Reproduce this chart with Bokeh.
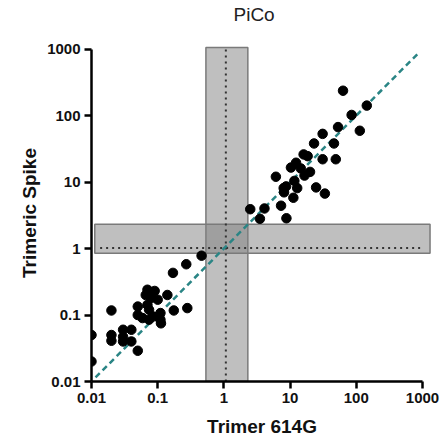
from bokeh.plotting import figure
from bokeh.models import Range1d, FixedTicker, CustomJSTickFormatter, Title
from bokeh.embed import file_html
from bokeh.resources import INLINE

# ---------------- data ----------------
trimer_614g = [2.5, 4.1, 3.5, 8.8, 6.1, 7.3, 8.1, 8.0, 8.7, 11.2, 11.6, 12.8, 16.5, 20, 10.3,
               12.3, 14.5, 16, 18.4, 24.7, 33.5, 31, 49, 23, 46, 31, 53, 63, 85, 113, 144,
               0.46, 0.27, 0.17, 0.07, 0.09, 0.14, 0.079, 0.1, 0.066, 0.05, 0.07, 0.175, 0.28,
               0.02, 0.05, 0.059, 0.074, 0.085, 0.11, 0.11, 0.112, 0.074, 0.01, 0.02, 0.02,
               0.03, 0.03, 0.03, 0.04, 0.04, 0.05, 0.01]
trimeric_spike = [3.9, 4.0, 2.8, 2.85, 12, 4.4, 7.0, 8.1, 8.6, 5.8, 10.4, 8.1, 12.5, 14.2, 16.5,
                  19.5, 16, 26, 24.5, 8.3, 6.7, 22, 22, 38, 38, 53, 67, 236, 102, 59, 141,
                  0.78, 0.58, 0.43, 0.24, 0.23, 0.2, 0.18, 0.17, 0.2, 0.134, 0.142, 0.117, 0.127,
                  0.117, 0.1, 0.09, 0.085, 0.095, 0.107, 0.085, 0.075, 0.12, 0.05, 0.05, 0.041,
                  0.06, 0.047, 0.04, 0.06, 0.04, 0.029, 0.02]

tick_values = [0.01, 0.1, 1, 10, 100, 1000]
tick_labels = ["0.01", "0.1", "1", "10", "100", "1000"]
title_text = "PiCo"

# shaded threshold bands (x: Trimer 614G, y: Trimeric Spike)
vband_x = [0.535, 2.3]
vband_y = [0.01, 1050]
hband_x = [0.0112, 1300]
hband_y = [0.85, 2.32]
# dotted cut-off lines
vcut_x = [1.07, 1.07]
vcut_y = [0.01, 1000]
hcut_x = [0.0135, 1000]
hcut_y = [1.02, 1.02]
# identity line
identity = [0.0115, 900]

# ---------------- figure ----------------
p = figure(width=440, height=442, x_axis_type="log", y_axis_type="log",
           x_range=Range1d(0.01, 1416), y_range=Range1d(0.01, 1170),
           output_backend="svg", toolbar_location=None, title_location=None,
           min_border_left=91, min_border_right=8, min_border_top=44, min_border_bottom=61)
p.outline_line_color = None
p.xgrid.visible = False
p.ygrid.visible = False
p.background_fill_color = "white"

# blank spacer next to the frame, then the visible title above it
p.add_layout(Title(text=" ", text_font_size="14px", standoff=2), "above")
p.add_layout(Title(text=title_text, align="left", offset=142, standoff=0,
                   text_font="Liberation Sans", text_font_size="19px",
                   text_font_style="normal", text_color="#222222"), "above")

# bands
p.quad(left=[vband_x[0]], right=[vband_x[1]], bottom=[vband_y[0]], top=[vband_y[1]],
       fill_color="#808080", fill_alpha=0.5, line_color="#7a7a7a", line_width=1.5)
p.quad(left=[hband_x[0]], right=[hband_x[1]], bottom=[hband_y[0]], top=[hband_y[1]],
       fill_color="#808080", fill_alpha=0.5, line_color="#7a7a7a", line_width=1.5)

p.line(vcut_x, vcut_y, line_color="#333333", line_width=2, line_dash="2 4")
p.line(hcut_x, hcut_y, line_color="#333333", line_width=2, line_dash="2 4")

p.line(identity, identity, line_color="#2a8585", line_width=2.5, line_dash="6 4")

p.scatter(trimer_614g, trimeric_spike, size=9.5, marker="circle",
          fill_color="black", line_color="black")

fmt = CustomJSTickFormatter(args=dict(labels=tick_labels),
                            code="return labels[Math.round(Math.log10(tick)) + 2];")
for ax, lab in ((p.xaxis[0], "Trimer 614G"), (p.yaxis[0], "Trimeric Spike")):
    ax.ticker = FixedTicker(ticks=tick_values)
    ax.formatter = fmt
    ax.bounds = (0.01, 1000)
    ax.axis_label = lab
    ax.axis_label_text_font = "Liberation Sans"
    ax.axis_label_text_font_size = "19px"
    ax.axis_label_text_font_style = "bold"
    ax.axis_label_text_color = "#111111"
    ax.major_label_text_font = "Liberation Sans"
    ax.major_label_text_font_size = "15px"
    ax.major_label_text_font_style = "bold"
    ax.major_label_text_color = "#111111"
    ax.major_label_standoff = 4
    ax.axis_line_width = 2.5
    ax.axis_line_color = "black"
    ax.major_tick_line_width = 2.5
    ax.major_tick_line_color = "black"
    ax.major_tick_out = 7
    ax.major_tick_in = 0
    ax.minor_tick_line_color = None
p.xaxis[0].axis_label_standoff = 10
p.yaxis[0].axis_label_standoff = 4

open("out.html", "w").write(file_html(p, INLINE))
